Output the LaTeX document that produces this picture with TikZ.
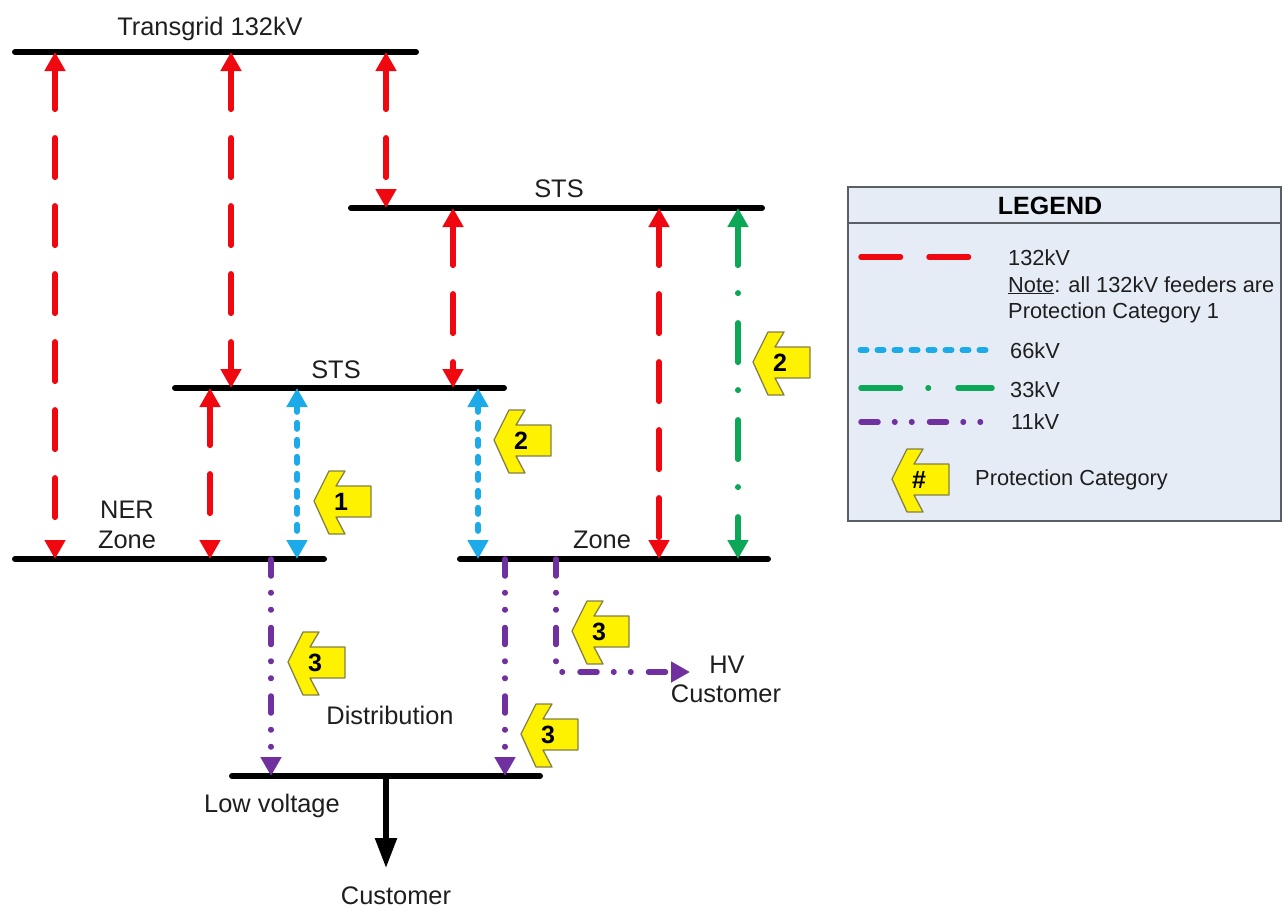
\documentclass[tikz,border=0pt]{standalone}
\usepackage{fontspec}
\setmainfont{Liberation Sans}
\usetikzlibrary{arrows.meta}
\definecolor{Feeder132}{RGB}{240, 8, 16}
\definecolor{Feeder66}{RGB}{28, 170, 232}
\definecolor{Feeder33}{RGB}{12, 168, 88}
\definecolor{Feeder11}{RGB}{112, 48, 160}
\definecolor{LegendFill}{RGB}{230, 236, 246}
\definecolor{LegendEdge}{RGB}{90, 95, 102}
\definecolor{TextGrey}{RGB}{30, 30, 30}
\tikzset{
  busbar/.style={line width=6pt, line cap=round, black},
  label/.style={font=\fontsize{25.4}{30}\selectfont, text=TextGrey, inner sep=0pt, anchor=base},
  keytext/.style={font=\fontsize{21.8}{26}\selectfont, text=TextGrey, inner sep=0pt, anchor=base west},
  tipboth/.style={{Triangle[length=19pt,width=20pt]}-{Triangle[length=19pt,width=20pt]}},
  tipend/.style={-{Triangle[length=19pt,width=20pt]}},
  feeder132/.style={line width=5.5pt, line cap=round, Feeder132, dash pattern=on 39.5pt off 28.5pt},
  feeder66/.style={line width=6pt, line cap=round, Feeder66, dash pattern=on 6pt off 11pt},
  feeder33/.style={line width=5.5pt, line cap=round, Feeder33, dash pattern=on 39.5pt off 27.5pt on 0.5pt off 29.5pt},
  feeder11/.style={line width=5.5pt, line cap=round, line join=round, Feeder11, dash pattern=on 17pt off 16.5pt on 0.5pt off 16.5pt on 0.5pt off 17.5pt},
  catarrow/.style={fill=yellow, draw=black!55!yellow, line width=1.3pt, line join=round},
  catnum/.style={font=\fontsize{25}{30}\selectfont\bfseries, text=black, inner sep=0pt}
}
\begin{document}
\begin{tikzpicture}[x=1pt, y=-1pt]
    \useasboundingbox (0,0) rectangle (1287,908);

    % Bus ends
    \coordinate (tgA) at (15,52);   \coordinate (tgB) at (416,52);
    \coordinate (stsRA) at (351,208); \coordinate (stsRB) at (762,208);
    \coordinate (stsLA) at (175,388); \coordinate (stsLB) at (504,388);
    \coordinate (nerA) at (15,559);  \coordinate (nerB) at (324,559);
    \coordinate (zoneA) at (460,559); \coordinate (zoneB) at (768,559);
    \coordinate (lvA) at (232,776);  \coordinate (lvB) at (540,776);

    % Buses
    \foreach \a/\b in {tgA/tgB, stsRA/stsRB, stsLA/stsLB, nerA/nerB, zoneA/zoneB, lvA/lvB}
      \draw[busbar] (\a) -- (\b);

    % 132kV feeders
    \foreach \x/\a/\b in {55/tgA/nerA, 231/tgA/stsLA, 386/tgA/stsRA, 453/stsRA/stsLA, 659/stsRA/zoneA, 210/stsLA/nerA}
      \draw[feeder132, tipboth] (\x, 0 |- \a) -- (\x, 0 |- \b);

    % 66kV feeders
    \foreach \x/\a/\b in {297/stsLA/nerA, 478/stsLA/zoneA}
      \draw[feeder66, tipboth] (\x, 0 |- \a) -- (\x, 0 |- \b);

    % 33kV feeder
    \draw[feeder33, tipboth] (738, 0 |- stsRA) -- (738, 0 |- zoneA);

    % 11kV feeders
    \foreach \x/\a in {271/nerA, 505/zoneA}
      \draw[feeder11, tipend] (\x, 0 |- \a) -- (\x, 0 |- lvA);
    \coordinate (hvEnd) at (690,672);
    \draw[feeder11, tipend] (556, 0 |- zoneA) |- (hvEnd);

    % Customer arrow
    \coordinate (custEnd) at (386,868);
    \draw[line width=5.5pt, -{Triangle[length=30pt,width=21pt]}] (386, 0 |- lvA) -- (custEnd);

    % Bus labels
    \node[label] (tgLabel) at (210,35) {Transgrid 132kV};
    \node[label] (stsRLabel) at (559,197) {STS};
    \node[label] (stsLLabel) at (336,378) {STS};
    \node[label] (nerLabel) at (127,518) {NER};
    \node[label] (nerZoneLabel) at (127,548) {Zone};
    \node[label] (zoneLabel) at (602,548) {Zone};
    \node[label] (hvLabel) at (727,673) {HV};
    \node[label] (hvCustLabel) at (726,702) {Customer};
    \node[label] (distLabel) at (390,724) {Distribution};
    \node[label] (lvLabel) at (272,812) {Low voltage};
    \node[label] (custLabel) at (396,904) {Customer};

    % Legend
    \node[draw=LegendEdge, fill=LegendFill, line width=1.5pt, minimum width=433pt, minimum height=334pt, inner sep=0pt] (legend) at (1064.5,354) {};
    \draw[LegendEdge, line width=1.5pt] (legend.west |- 0,223) -- (legend.east |- 0,223);
    \node[font=\fontsize{25}{30}\selectfont\bfseries, text=black, inner sep=0pt, anchor=base] (legendTitle) at (1050,214) {LEGEND};

    \coordinate (key132A) at (861,257); \coordinate (key132B) at (970,257);
    \coordinate (key66A) at (860.5,350); \coordinate (key66B) at (987,350);
    \coordinate (key33A) at (861,388); \coordinate (key33B) at (992,388);
    \coordinate (key11A) at (861,422); \coordinate (key11B) at (984,422);
    \draw[feeder132] (key132A) -- (key132B);
    \draw[feeder66] (key66A) -- (key66B);
    \draw[feeder33] (key33A) -- (key33B);
    \draw[feeder11] (key11A) -- (key11B);

    \node[keytext] (key132Text) at (1008,265) {132kV};
    \node[keytext] (keyNoteA) at (1008,292) {\underline{Note}: all 132kV feeders are};
    \node[keytext] (keyNoteB) at (1008,318) {Protection Category 1};
    \node[keytext] (key66Text) at (1010,358) {66kV};
    \node[keytext] (key33Text) at (1010,397) {33kV};
    \node[keytext] (key11Text) at (1011,429) {11kV};
    \node[keytext] (keyCatText) at (975,485) {Protection Category};

    % Protection category arrows
    \foreach \x/\y/\n/\id in {314/501/1/a, 494/440/2/b, 753/362/2/c, 288/662/3/d, 572/631/3/e, 521/734/3/f, 892/479/\#/g} {
      \draw[catarrow, shift={(\x,\y)}] (0,0) -- (15,-30) -- (31,-30) -- (22,-15) -- (57,-15)
        -- (57,16) -- (22,16) -- (31,33) -- (15,33) -- cycle;
      \node[catnum] (cat\id) at (\x+27,\y+1) {\n};
    }
\end{tikzpicture}
\end{document}
